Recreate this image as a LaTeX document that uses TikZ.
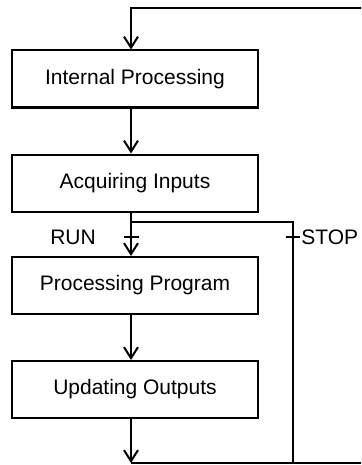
\documentclass[tikz,border=0pt]{standalone}
\usepackage{fontspec}
\setmainfont{Liberation Sans}
\usetikzlibrary{arrows.meta,positioning}

\tikzset{
  stage/.style={draw, line width=1pt, minimum width=123pt, minimum height=28.5pt,
    inner sep=0pt, font=\fontsize{10.5}{12}\selectfont},
  flow/.style={line width=1pt},
  lbl/.style={font=\fontsize{10.5}{12}\selectfont, inner sep=0pt}
}

\begin{document}
\begin{tikzpicture}[x=0.5pt, y=-0.5pt, >={Straight Barb[length=5.5pt,width=7pt]}]
    \useasboundingbox (0,0) rectangle (361,465);
    \clip (0,0) rectangle (361,465);

    % stages of the cycle
    \node[stage] (intern) at (135,79) {Internal Processing};
    \node[stage] (inputs) at (135,183) {Acquiring Inputs};
    \node[stage] (prog) at (135,285.5) {Processing Program};
    \node[stage] (outputs) at (135,389.5) {Updating Outputs};

    \coordinate (col) at (131,0);
    \coordinate (split) at (131,222);
    \coordinate (stopcol) at (293,222);
    \coordinate (bottom) at (131,463);
    \coordinate (rbottom) at (364,463);
    \coordinate (rtop) at (364,8.5);
    \coordinate (top) at (131,8.5);

    \draw[flow, ->] (intern.south -| col) -- (inputs.north -| col);
    \draw[flow] (inputs.south -| col) -- (split);
    \draw[flow, ->] (split) -- (prog.north -| col);
    \draw[flow, ->] (prog.south -| col) -- (outputs.north -| col);
    \draw[flow, ->] (outputs.south -| col) -- (bottom);

    % STOP branch and loop back
    \draw[flow] (split) -- (stopcol) -- (stopcol |- bottom);
    \draw[flow, ->] (bottom) -- (rbottom) -- (rtop) -- (top) -- (intern.north -| col);

    % transitions
    \draw[flow] (124,237) -- (139,237);
    \draw[flow] (286,237) -- (300,237);
    \node[lbl] (run) at (73,237) {RUN};
    \node[lbl, anchor=west] (stop) at (301,237) {STOP};
\end{tikzpicture}
\end{document}
